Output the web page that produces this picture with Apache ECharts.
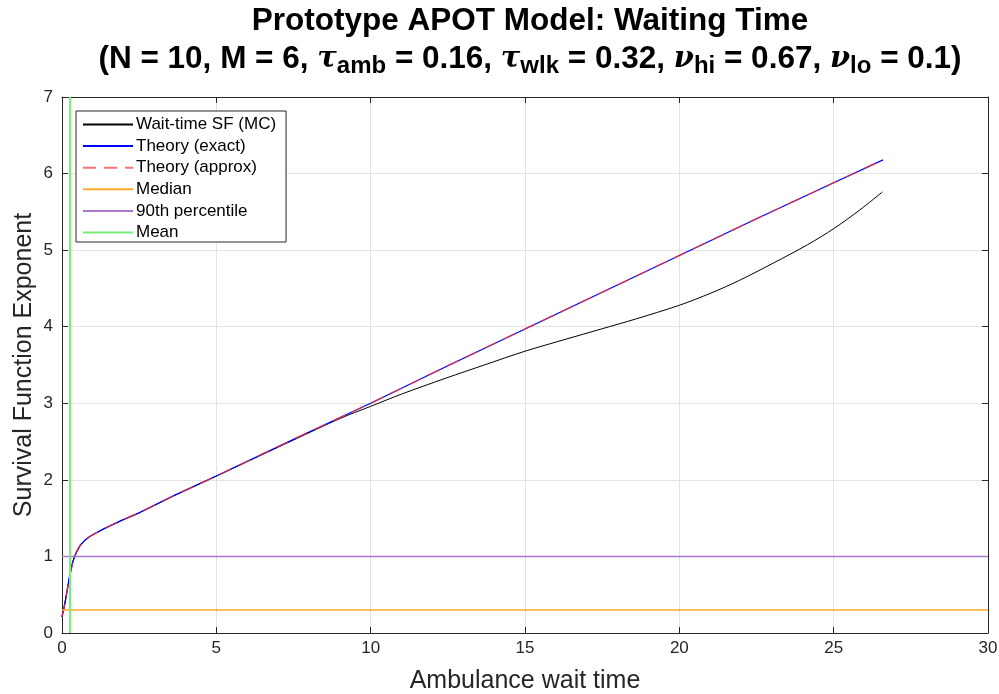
<!DOCTYPE html>
<html>
<head>
<meta charset="utf-8">
<script src="https://cdn.jsdelivr.net/npm/echarts@6/dist/echarts.min.js"></script>
<style>
  html, body { margin: 0; padding: 0; background: #fff; }
  #main { width: 999px; height: 694px; }
</style>
</head>
<body>
<div id="main"></div>
<script>
// 数据：近似值
const mcX = [0, 0.07, 0.13, 0.19, 0.25, 0.35, 0.47, 0.6, 0.74, 0.9, 1.07, 1.4, 1.93, 2.5, 3.66, 5, 7.5, 9, 10, 11, 12.45, 13.68, 15, 16.35, 17.47, 18.58, 20, 21.03, 21.92, 23.04, 24.15, 25, 25.83, 26.58];
const mcY = [0.21, 0.34, 0.47, 0.61, 0.75, 0.93, 1.06, 1.15, 1.21, 1.26, 1.30, 1.37, 1.47, 1.57, 1.80, 2.05, 2.52, 2.80, 2.96, 3.12, 3.33, 3.50, 3.68, 3.84, 3.97, 4.10, 4.28, 4.44, 4.60, 4.83, 5.07, 5.28, 5.52, 5.76];

const theoryX = [0, 0.07, 0.13, 0.19, 0.25, 0.35, 0.47, 0.6, 0.74, 0.9, 1.07, 1.4, 1.93, 2.5, 3.66, 5, 7.5, 10, 12.5, 15, 17.5, 20, 22.5, 25, 26.6];
const exactY = [0.21, 0.34, 0.47, 0.61, 0.75, 0.93, 1.06, 1.15, 1.21, 1.26, 1.30, 1.37, 1.47, 1.57, 1.80, 2.05, 2.53, 3.0, 3.49, 3.97, 4.45, 4.93, 5.41, 5.88, 6.18];
const approxY = [0.21, 0.34, 0.47, 0.61, 0.75, 0.93, 1.06, 1.15, 1.21, 1.26, 1.30, 1.37, 1.47, 1.57, 1.80, 2.05, 2.53, 3.0, 3.49, 3.97, 4.45, 4.93, 5.41, 5.88, 6.18];

const medianVal = 0.3;
const p90Val = 1.0;
const meanVal = 0.26;
const xRange = [0, 30];
const yRange = [0, 7];

const legendNames = ['Wait-time SF (MC)', 'Theory (exact)', 'Theory (approx)', 'Median', '90th percentile', 'Mean'];

const zip = (xs, ys) => xs.map((x, i) => [x, ys[i]]);

const chart = echarts.init(document.getElementById('main'));

const axisColor = '#262626';
const font = 'Liberation Sans, Arial, sans-serif';

const option = {
  animation: false,
  backgroundColor: '#fff',
  title: {
    left: 525,
    textAlign: 'center',
    top: -3,
    text: '{b|Prototype APOT Model: Waiting Time}\n' +
      '{b|(N = 10, M = 6, }{g|τ}{s|amb}{b| = 0.16, }{g|τ}{s|wlk}{b| = 0.32, }{g|ν}{s|hi}{b| = 0.67, }{g|ν}{s|lo}{b| = 0.1)}',
    textStyle: {
      rich: {
        b: { fontSize: 31.5, fontWeight: 'bold', fontFamily: font, color: '#000', lineHeight: 38 },
        g: { fontSize: 29, fontStyle: 'italic', fontFamily: 'DejaVu Serif, serif', color: '#000', lineHeight: 38 },
        s: { fontSize: 24, fontWeight: 'bold', fontFamily: font, color: '#000', lineHeight: 14, verticalAlign: 'bottom' }
      }
    }
  },
  grid: { left: 62, right: 11, top: 97, bottom: 61, outerBoundsMode: 'none' },
  legend: {
    orient: 'vertical',
    left: 76,
    top: 111,
    padding: [5, 10, 1, 6],
    itemWidth: 50,
    itemHeight: 14,
    itemGap: 4.6,
    backgroundColor: '#fff',
    borderColor: axisColor,
    borderWidth: 1,
    borderRadius: 0,
    itemStyle: { opacity: 0 },
    textStyle: { fontSize: 17, fontFamily: font, color: '#000', padding: [0, 0, 0, -2] },
    data: legendNames
  },
  xAxis: [
    {
      type: 'value', min: xRange[0], max: xRange[1], interval: 5,
      name: 'Ambulance wait time', nameLocation: 'middle', nameGap: 36,
      nameTextStyle: { fontSize: 25, fontFamily: font, color: axisColor },
      axisLine: { show: true, lineStyle: { color: axisColor } },
      axisTick: { show: true, inside: true, length: 6, lineStyle: { color: axisColor } },
      axisLabel: { fontSize: 17, fontFamily: font, color: axisColor, margin: 7 },
      splitLine: { show: true, lineStyle: { color: '#e3e3e3' } }
    },
    {
      type: 'value', min: xRange[0], max: xRange[1], interval: 5, position: 'top',
      axisLine: { show: true, onZero: false, lineStyle: { color: axisColor } },
      axisTick: { show: true, inside: true, length: 6, lineStyle: { color: axisColor } },
      axisLabel: { show: false }, splitLine: { show: false }
    }
  ],
  yAxis: [
    {
      type: 'value', min: yRange[0], max: yRange[1], interval: 1,
      name: 'Survival Function Exponent', nameLocation: 'middle', nameGap: 25,
      nameMoveOverlap: false,
      nameTextStyle: { fontSize: 25, fontFamily: font, color: axisColor },
      axisLine: { show: true, lineStyle: { color: axisColor } },
      axisTick: { show: true, inside: true, length: 6, lineStyle: { color: axisColor } },
      axisLabel: { fontSize: 17, fontFamily: font, color: axisColor, margin: 9 },
      splitLine: { show: true, lineStyle: { color: '#e3e3e3' } }
    },
    {
      type: 'value', min: yRange[0], max: yRange[1], interval: 1, position: 'right',
      axisLine: { show: true, onZero: false, lineStyle: { color: axisColor } },
      axisTick: { show: true, inside: true, length: 6, lineStyle: { color: axisColor } },
      axisLabel: { show: false }, splitLine: { show: false }
    }
  ],
  series: [
    {
      name: legendNames[0], type: 'line', symbol: 'none', smooth: 0.3,
      data: zip(mcX, mcY), lineStyle: { color: '#000', width: 1 }, itemStyle: { color: '#000' }
    },
    {
      name: legendNames[1], type: 'line', symbol: 'none',
      data: zip(theoryX, exactY), lineStyle: { color: '#0000ff', width: 1.3 }, itemStyle: { color: '#0000ff' }
    },
    {
      name: legendNames[2], type: 'line', symbol: 'none',
      data: zip(theoryX, approxY),
      lineStyle: { color: '#ff3333', width: 1.5, type: [13, 8], opacity: 0.7 }, itemStyle: { color: '#ff7777' }
    },
    {
      name: legendNames[3], type: 'line', symbol: 'none',
      data: [[xRange[0], medianVal], [xRange[1], medianVal]],
      lineStyle: { color: '#ffaa22', width: 1.5 }, itemStyle: { color: '#ffaa22' }
    },
    {
      name: legendNames[4], type: 'line', symbol: 'none',
      data: [[xRange[0], p90Val], [xRange[1], p90Val]],
      lineStyle: { color: '#aa77cc', width: 1.5 }, itemStyle: { color: '#aa77cc' }
    },
    {
      name: legendNames[5], type: 'line', symbol: 'none',
      data: [[meanVal, yRange[0]], [meanVal, yRange[1]]],
      lineStyle: { color: '#77ee77', width: 2 }, itemStyle: { color: '#77ee77' }
    }
  ]
};

chart.setOption(option);
window.addEventListener('resize', function () {
  chart.resize();
});
</script>
</body>
</html>
